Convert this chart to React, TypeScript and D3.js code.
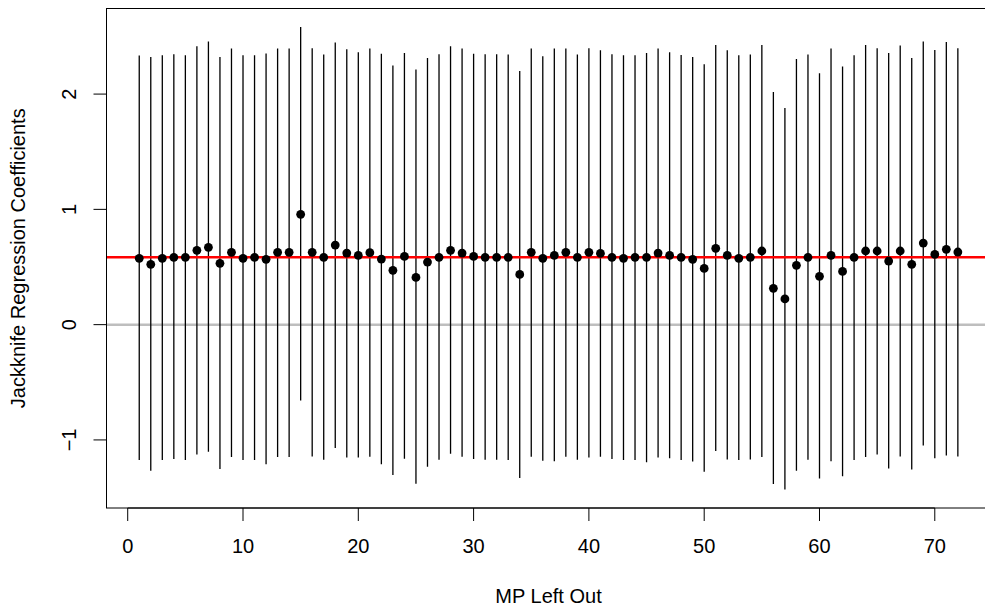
import React from "react";
import * as d3 from "d3";

// Index of MP left out
const mpIndex: number[] = d3.range(1, 73);

// Jackknife point estimates
const estimates: number[] = [
  0.575, 0.523, 0.575, 0.584, 0.584, 0.645, 0.671, 0.532, 0.627, 0.575,
  0.584, 0.567, 0.627, 0.627, 0.957, 0.627, 0.584, 0.690, 0.621, 0.601,
  0.624, 0.569, 0.471, 0.592, 0.410, 0.543, 0.584, 0.645, 0.621, 0.592,
  0.584, 0.584, 0.584, 0.436, 0.627, 0.575, 0.601, 0.627, 0.584, 0.627,
  0.618, 0.584, 0.575, 0.584, 0.584, 0.621, 0.601, 0.584, 0.567, 0.488,
  0.662, 0.601, 0.575, 0.584, 0.639, 0.315, 0.223, 0.515, 0.584, 0.419,
  0.601, 0.462, 0.584, 0.639, 0.639, 0.552, 0.639, 0.523, 0.708, 0.610,
  0.653, 0.630,
];

// Upper interval bounds
const upper: number[] = [
  2.334, 2.322, 2.337, 2.346, 2.337, 2.415, 2.456, 2.322, 2.395, 2.337,
  2.337, 2.352, 2.395, 2.395, 2.582, 2.398, 2.343, 2.447, 2.389, 2.363,
  2.395, 2.349, 2.248, 2.357, 2.213, 2.314, 2.346, 2.415, 2.395, 2.349,
  2.346, 2.346, 2.343, 2.201, 2.395, 2.328, 2.395, 2.395, 2.343, 2.398,
  2.380, 2.346, 2.337, 2.337, 2.357, 2.395, 2.363, 2.340, 2.322, 2.259,
  2.426, 2.380, 2.337, 2.343, 2.426, 2.019, 1.880, 2.305, 2.343, 2.181,
  2.395, 2.239, 2.337, 2.426, 2.398, 2.357, 2.421, 2.314, 2.456, 2.383,
  2.452, 2.398,
];

// Lower interval bounds
const lower: number[] = [
  -1.175, -1.268, -1.175, -1.166, -1.175, -1.126, -1.103, -1.253, -1.149, -1.175,
  -1.175, -1.210, -1.149, -1.149, -0.658, -1.144, -1.172, -1.071, -1.152, -1.152,
  -1.146, -1.210, -1.305, -1.164, -1.380, -1.233, -1.172, -1.120, -1.146, -1.166,
  -1.172, -1.172, -1.175, -1.331, -1.146, -1.181, -1.184, -1.146, -1.172, -1.152,
  -1.146, -1.166, -1.175, -1.175, -1.193, -1.152, -1.158, -1.175, -1.187, -1.276,
  -1.097, -1.170, -1.175, -1.170, -1.147, -1.383, -1.430, -1.268, -1.172, -1.334,
  -1.184, -1.314, -1.175, -1.149, -1.126, -1.248, -1.144, -1.256, -1.048, -1.158,
  -1.135, -1.144,
];

const fullEstimate = 0.585;
const xTicks: number[] = [0, 10, 20, 30, 40, 50, 60, 70];
const yTicks: number[] = [-1, 0, 1, 2];
const xLabel = "MP Left Out";
const yLabel = "Jackknife Regression Coefficients";

const W = 985;
const H = 610;
const left = 106.5;
const right = 990.6;
const top = 8.5;
const bottom = 508;
const FONT = "'Liberation Sans', Arial, Helvetica, sans-serif";

export default function App() {
  const xExt = (72 - 1) * 0.04;
  const x = d3.scaleLinear().domain([1 - xExt, 72 + xExt]).range([left, right]);
  const yMin = d3.min(lower)!;
  const yMax = d3.max(upper)!;
  const yExt = (yMax - yMin) * 0.04;
  const y = d3.scaleLinear().domain([yMin - yExt, yMax + yExt]).range([bottom, top]);

  return (
    <div style={{ position: "absolute", left: 0, top: 0 }}>
      <svg width={W} height={H} style={{ display: "block", background: "#fff" }} fontFamily={FONT}>
        <defs>
          <clipPath id="plotclip">
            <rect x={left} y={top} width={right - left} height={bottom - top} />
          </clipPath>
        </defs>
        <g clipPath="url(#plotclip)">
          <line x1={left} x2={right} y1={y(0)} y2={y(0)} stroke="#bebebe" strokeWidth={2.5} />
          {mpIndex.map((m, i) => (
            <line key={"s" + m} x1={x(m)} x2={x(m)} y1={y(upper[i])} y2={y(lower[i])} stroke="#000" strokeWidth={1.3} />
          ))}
          <line x1={left} x2={right} y1={y(fullEstimate)} y2={y(fullEstimate)} stroke="#ff0000" strokeWidth={2.5} />
          {mpIndex.map((m, i) => (
            <circle key={"p" + m} cx={x(m)} cy={y(estimates[i])} r={4.4} fill="#000" />
          ))}
        </g>
        {/* box */}
        <rect x={left} y={top} width={right - left} height={bottom - top} fill="none" stroke="#000" strokeWidth={1} />
        {/* x axis */}
        <line x1={x(0)} x2={x(70)} y1={bottom} y2={bottom} stroke="#000" strokeWidth={1} />
        {xTicks.map((t) => (
          <g key={"xt" + t}>
            <line x1={x(t)} x2={x(t)} y1={bottom} y2={bottom + 13} stroke="#000" strokeWidth={1} />
            <text x={x(t)} y={553} textAnchor="middle" fontSize={20} fill="#000">{t}</text>
          </g>
        ))}
        {/* y axis */}
        {yTicks.map((t) => (
          <g key={"yt" + t}>
            <line x1={left} x2={left - 13} y1={y(t)} y2={y(t)} stroke="#000" strokeWidth={1} />
            <text transform={`translate(${76},${y(t)}) rotate(-90)`} textAnchor="middle" fontSize={20} fill="#000">
              {t < 0 ? "\u2212" + Math.abs(t) : String(t)}
            </text>
          </g>
        ))}
        <text x={(left + right) / 2} y={603} textAnchor="middle" fontSize={20} fill="#000">{xLabel}</text>
        <text transform={`translate(${25},${(top + bottom) / 2}) rotate(-90)`} textAnchor="middle" fontSize={20} fill="#000">
          {yLabel}
        </text>
      </svg>
    </div>
  );
}
